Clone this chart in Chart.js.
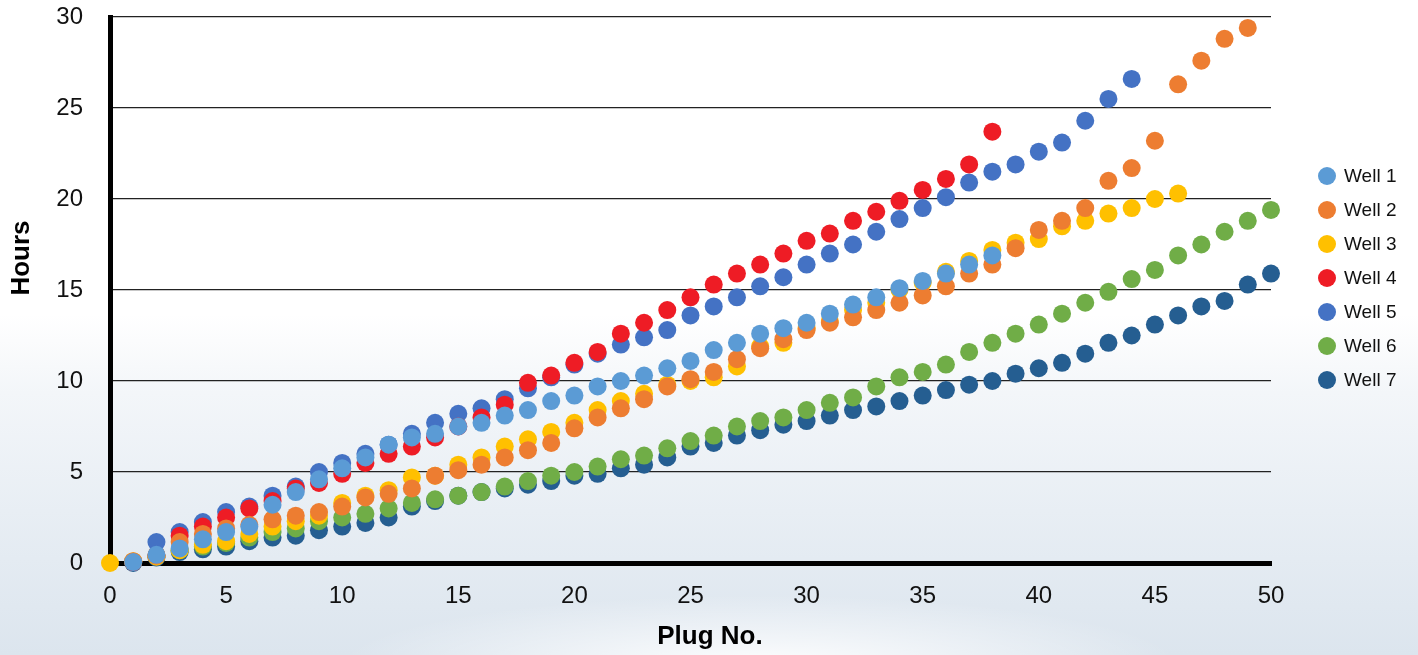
<!DOCTYPE html>
<html>
<head>
<meta charset="utf-8">
<script src="https://cdn.jsdelivr.net/npm/chart.js@4.4.1/dist/chart.umd.min.js"></script>
<style>
  html, body { margin: 0; padding: 0; }
  body {
    width: 1418px;
    height: 655px;
    overflow: hidden;
    background:
      radial-gradient(ellipse 420px 70px at 760px 665px, rgba(255,255,255,0.95), rgba(255,255,255,0)),
      linear-gradient(180deg, #ffffff 0%, #ffffff 48%, #f3f6f9 60%, #e8eef4 78%, #dce5ee 100%);
  }
  #wrap { position: relative; width: 1418px; height: 655px; }
</style>
</head>
<body>
<div id="wrap"><canvas id="plugChart"></canvas></div>
<script>
// plug numbers (x axis)
const plugNo = [0, 1, 2, 3, 4, 5, 6, 7, 8, 9, 10, 11, 12, 13, 14, 15, 16, 17, 18, 19, 20,
    21, 22, 23, 24, 25, 26, 27, 28, 29, 30, 31, 32, 33, 34, 35, 36, 37, 38, 39, 40,
    41, 42, 43, 44, 45, 46, 47, 48, 49, 50];

// hours per plug, index = plug number (null = no reading)
const well1 = [null, 0.05, 0.45, 0.8, 1.3, 1.7, 2.0, 3.2, 3.9, 4.6, 5.2, 5.8, 6.5, 6.9, 7.1, 7.5, 7.7, 8.1, 8.4, 8.9, 9.2,
    9.7, 10.0, 10.3, 10.7, 11.1, 11.7, 12.1, 12.6, 12.9, 13.2, 13.7, 14.2, 14.6, 15.1, 15.5, 15.9, 16.4, 16.9];
const well2 = [null, 0.1, 0.4, 1.15, 1.6, 1.9, 2.1, 2.4, 2.6, 2.8, 3.1, 3.6, 3.8, 4.1, 4.8, 5.1, 5.4, 5.8, 6.2, 6.6, 7.4,
    8.0, 8.5, 9.0, 9.7, 10.1, 10.5, 11.2, 11.8, 12.3, 12.8, 13.2, 13.5, 13.9, 14.3, 14.7, 15.2, 15.9, 16.4, 17.3, 18.3,
    18.8, 19.5, 21.0, 21.7, 23.2, 26.3, 27.6, 28.8, 29.4];
const well3 = [0, 0.1, 0.35, 0.7, 1.0, 1.2, 1.6, 2.0, 2.3, 2.6, 3.3, 3.7, 4.0, 4.7, 4.8, 5.4, 5.8, 6.4, 6.8, 7.2, 7.7,
    8.4, 8.9, 9.3, 9.8, 10.0, 10.2, 10.8, 11.9, 12.1, 12.9, 13.3, 13.9, 14.3, 15.0, 15.4, 16.0, 16.6, 17.2, 17.6, 17.8,
    18.5, 18.8, 19.2, 19.5, 20.0, 20.3];
const well4 = [null, 0.05, 0.4, 1.5, 2.0, 2.5, 3.0, 3.4, 4.1, 4.4, 4.9, 5.5, 6.0, 6.4, 6.9, 7.5, 8.0, 8.7, 9.9, 10.3, 11.0,
    11.6, 12.6, 13.2, 13.9, 14.6, 15.3, 15.9, 16.4, 17.0, 17.7, 18.1, 18.8, 19.3, 19.9, 20.5, 21.1, 21.9, 23.7];
const well5 = [null, 0.05, 1.15, 1.7, 2.25, 2.8, 3.1, 3.7, 4.2, 5.0, 5.5, 6.0, 6.5, 7.1, 7.7, 8.2, 8.5, 9.0, 9.6, 10.2, 10.9,
    11.5, 12.0, 12.4, 12.8, 13.6, 14.1, 14.6, 15.2, 15.7, 16.4, 17.0, 17.5, 18.2, 18.9, 19.5, 20.1, 20.9, 21.5, 21.9, 22.6,
    23.1, 24.3, 25.5, 26.6];
const well6 = [null, 0.05, 0.4, 0.7, 0.9, 1.1, 1.4, 1.7, 1.9, 2.3, 2.5, 2.7, 3.0, 3.3, 3.5, 3.7, 3.9, 4.2, 4.5, 4.8, 5.0,
    5.3, 5.7, 5.9, 6.3, 6.7, 7.0, 7.5, 7.8, 8.0, 8.4, 8.8, 9.1, 9.7, 10.2, 10.5, 10.9, 11.6, 12.1, 12.6, 13.1,
    13.7, 14.3, 14.9, 15.6, 16.1, 16.9, 17.5, 18.2, 18.8, 19.4];
const well7 = [null, 0, 0.3, 0.6, 0.75, 0.9, 1.2, 1.4, 1.5, 1.8, 2.0, 2.2, 2.5, 3.1, 3.4, 3.7, 3.9, 4.1, 4.3, 4.5, 4.8,
    4.9, 5.2, 5.4, 5.8, 6.4, 6.6, 7.0, 7.3, 7.6, 7.8, 8.1, 8.4, 8.6, 8.9, 9.2, 9.5, 9.8, 10.0, 10.4, 10.7,
    11.0, 11.5, 12.1, 12.5, 13.1, 13.6, 14.1, 14.4, 15.3, 15.9];

const wellNames = ['Well 1', 'Well 2', 'Well 3', 'Well 4', 'Well 5', 'Well 6', 'Well 7'];
const wellColors = ['#5B9BD5', '#ED7D31', '#FFC000', '#EE1C25', '#4472C4', '#70AD47', '#255E91'];
const allWells = [well1, well2, well3, well4, well5, well6, well7];

const hourTicks = [0, 5, 10, 15, 20, 25, 30];
const plugTicks = [0, 5, 10, 15, 20, 25, 30, 35, 40, 45, 50];

const fontName = "'Liberation Sans', Arial, sans-serif";

function toPoints(hours) {
    return hours
        .map(function (h, i) { return {x: plugNo[i], y: h}; })
        .filter(function (p) { return p.y !== null; });
}

const datasets = allWells.map(function (hours, i) {
    return {
        label: wellNames[i],
        data: toPoints(hours),
        backgroundColor: wellColors[i],
        borderColor: wellColors[i],
        borderWidth: 0,
        pointRadius: 9,
        pointHoverRadius: 9,
        showLine: false,
        clip: false
    };
});

// legend and axis titles placed like the original sheet (not centred on the plot)
const sheetLabels = {
    id: 'sheetLabels',
    afterDraw(chart) {
        const ctx = chart.ctx;
        ctx.save();
        ctx.font = '19px ' + fontName;
        ctx.textBaseline = 'middle';
        ctx.textAlign = 'left';
        chart.data.datasets.forEach(function (ds, i) {
            const y = 176 + i * 34;
            ctx.fillStyle = ds.backgroundColor;
            ctx.beginPath();
            ctx.arc(1327, y, 9, 0, Math.PI * 2);
            ctx.fill();
            ctx.fillStyle = '#111';
            ctx.fillText(ds.label, 1344, y + 1);
        });

        ctx.fillStyle = '#000';
        ctx.font = 'bold 26px ' + fontName;
        ctx.textAlign = 'center';
        ctx.fillText('Plug No.', 710, 637);

        ctx.translate(22, 258);
        ctx.rotate(-Math.PI / 2);
        ctx.fillText('Hours', 0, 0);
        ctx.restore();
    }
};

const ctx = document.getElementById('plugChart');
const chart = new Chart(ctx, {
    type: 'scatter',
    data: {datasets: datasets},
    options: {
        responsive: true,
        maintainAspectRatio: false,
        animation: false,
        events: [],
        layout: {
            padding: {left: 0, top: 17, right: 147, bottom: 0}
        },
        plugins: {
            legend: {display: false},
            tooltip: {enabled: false}
        },
        scales: {
            x: {
                type: 'linear',
                min: 0,
                max: 50,
                afterFit: function (scale) {
                    scale.height = 92;
                    scale.paddingLeft = 0;
                    scale.paddingRight = 0;
                },
                afterBuildTicks: function (scale) {
                    scale.ticks = plugTicks.map(function (v) { return {value: v}; });
                },
                grid: {display: false, drawTicks: false},
                border: {display: true, color: '#000', width: 5},
                ticks: {
                    color: '#111',
                    padding: 19,
                    maxRotation: 0,
                    font: {family: fontName, size: 24}
                }
            },
            y: {
                type: 'linear',
                min: 0,
                max: 30,
                afterFit: function (scale) {
                    // keep the plot area where the original has it
                    scale.width = 110;
                    scale.paddingTop = 0;
                    scale.paddingBottom = 0;
                },
                afterBuildTicks: function (scale) {
                    scale.ticks = hourTicks.map(function (v) { return {value: v}; });
                },
                grid: {color: '#222', lineWidth: 1.3, drawTicks: false},
                border: {display: true, color: '#000', width: 5},
                ticks: {
                    color: '#111',
                    padding: 27,
                    font: {family: fontName, size: 24}
                }
            }
        }
    },
    plugins: [sheetLabels]
});
</script>
</body>
</html>
